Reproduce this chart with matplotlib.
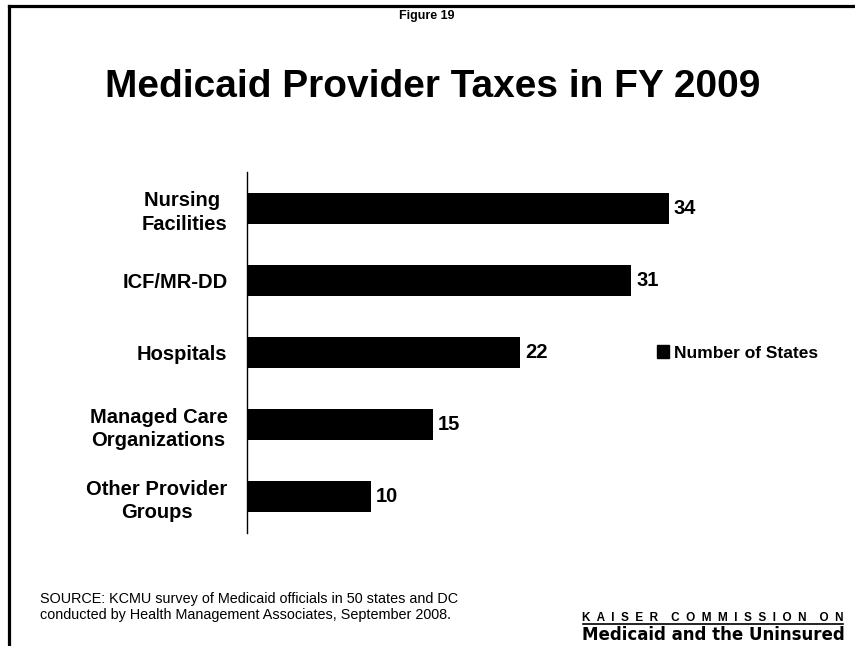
import matplotlib.pyplot as plt
from matplotlib.lines import Line2D
from matplotlib.patches import Patch

plt.rcParams['font.family'] = ['Liberation Sans', 'DejaVu Sans']

categories = ['Nursing \nFacilities', 'ICF/MR-DD', 'Hospitals',
              'Managed Care\nOrganizations', 'Other Provider\nGroups']
num_states = [34, 31, 22, 15, 10]
series_name = 'Number of States'

W, H = 855, 646
fig = plt.figure(figsize=(W / 100, H / 100), dpi=100)

# frame lines on the left and top of the slide
fig.add_artist(Line2D([9 / W, 9 / W], [0, 1 - 6 / H], color='black', lw=2.3))
fig.add_artist(Line2D([9 / W, 1], [1 - 6 / H, 1 - 6 / H], color='black', lw=2.3))

fig.text(427 / W, 1 - 16 / H, 'Figure 19', ha='center', va='center',
         fontsize=9, fontweight='bold')
fig.text(433 / W, 1 - 87 / H, 'Medicaid Provider Taxes in FY 2009',
         ha='center', va='center', fontsize=28, fontweight='bold')

ax = fig.add_axes([247 / W, 1 - 533 / H, 496 / W, 361 / H])
ypos = list(range(len(categories)))
bars = ax.barh(ypos, num_states, height=0.43, color='black',
               label=series_name)
ax.set_ylim(len(categories) - 0.5, -0.5)
ax.set_xlim(0, 40)
ax.set_yticks(ypos)
ax.set_yticklabels(categories, fontsize=14.5, fontweight='bold',
                   multialignment='center', linespacing=1.3)
ax.tick_params(axis='y', length=0, pad=14)
ax.tick_params(axis='x', bottom=False, labelbottom=False)
for s in ['top', 'right', 'bottom']:
    ax.spines[s].set_visible(False)
ax.spines['left'].set_linewidth(1.0)

for b, v in zip(bars, num_states):
    ax.text(v + 0.4, b.get_y() + b.get_height() / 2, str(v),
            ha='left', va='center', fontsize=14.5, fontweight='bold')

fig.legend(handles=[Patch(color='black', label=series_name)],
           loc='center left', bbox_to_anchor=(641 / W, 1 - 353 / H),
           frameon=False, handlelength=0.7, handleheight=0.7,
           handletextpad=0.3, prop={'size': 12.5, 'weight': 'bold'})

fig.text(40 / W, 1 - 607 / H,
         'SOURCE: KCMU survey of Medicaid officials in 50 states and DC\n'
         'conducted by Health Management Associates, September 2008.',
         ha='left', va='center', fontsize=10.4, linespacing=1.2)

fig.text(713 / W, 1 - 618 / H,
         'K  A  I  S  E  R    C  O  M  M  I  S  S  I  O  N    O  N',
         ha='center', va='center', fontsize=8.5, fontweight='bold')
fig.add_artist(Line2D([583 / W, 843 / W], [1 - 624 / H, 1 - 624 / H],
                      color='black', lw=1.2))
fig.text(713 / W, 1 - 635 / H, 'Medicaid and the Uninsured',
         ha='center', va='center', fontsize=12, fontweight='heavy',
         family=['DejaVu Sans'])

fig.savefig('out.png', dpi=100)
